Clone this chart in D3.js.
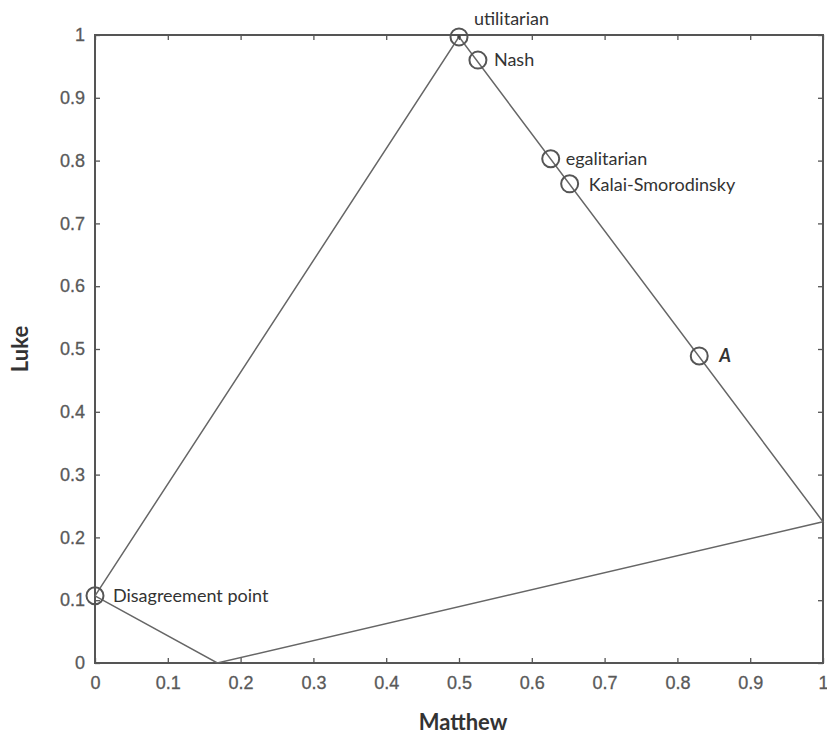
<!DOCTYPE html>
<html><head><meta charset="utf-8">
<script src="https://cdn.jsdelivr.net/npm/d3@7"></script>
<style>body{margin:0;background:#fff}</style>
</head><body>
<svg id="c" width="827" height="734"></svg>
<script>
const xTicks = [0,0.1,0.2,0.3,0.4,0.5,0.6,0.7,0.8,0.9,1];
const yTicks = [0,0.1,0.2,0.3,0.4,0.5,0.6,0.7,0.8,0.9,1];
const frontier = [[0,0.107],[0.5,0.997],[1,0.225],[0.168,0],[0,0.107]];
const pointNames = ["utilitarian","Nash","egalitarian","Kalai-Smorodinsky","A","Disagreement point"];
const pointX = [0.5,0.526,0.626,0.652,0.830,0.0];
const pointY = [0.997,0.960,0.803,0.763,0.489,0.107];

const svg = d3.select("#c");
const L=95,R=823,T=35,B=663;
const x = d3.scaleLinear().domain([0,1]).range([L,R]);
const y = d3.scaleLinear().domain([0,1]).range([B,T]);
const axisCol="#555", tickFont="Liberation Sans, Arial, sans-serif";

const g = svg.append("g");
g.append("g").attr("transform",`translate(0,${B})`).call(d3.axisBottom(x).tickValues(xTicks).tickSize(-5).tickPadding(13).tickFormat(d3.format("~g")));
g.append("g").attr("transform",`translate(0,${T})`).call(d3.axisTop(x).tickValues(xTicks).tickSize(-5).tickFormat(""));
g.append("g").attr("transform",`translate(${L},0)`).call(d3.axisLeft(y).tickValues(yTicks).tickSize(-5).tickPadding(10).tickFormat(d3.format("~g")));
g.append("g").attr("transform",`translate(${R},0)`).call(d3.axisRight(y).tickValues(yTicks).tickSize(-5).tickFormat(""));
g.selectAll(".domain").remove();
g.selectAll(".tick line").attr("stroke",axisCol).attr("stroke-width",1.3);
g.selectAll(".tick text").attr("fill","#595959").attr("font-family",tickFont).attr("font-size",18)
  .attr("stroke","#595959").attr("stroke-width",0.3);
svg.append("rect").attr("x",L).attr("y",T).attr("width",R-L).attr("height",B-T)
  .attr("fill","none").attr("stroke",axisCol).attr("stroke-width",2);

svg.append("path").datum(frontier)
  .attr("d",d3.line().x(d=>x(d[0])).y(d=>y(d[1])))
  .attr("fill","none").attr("stroke","#666").attr("stroke-width",1.5);

const pts = pointNames.map((n,i)=>({n,x:pointX[i],y:pointY[i]}));
svg.selectAll("circle.m").data(pts).join("circle").attr("class","m")
  .attr("cx",d=>x(d.x)).attr("cy",d=>y(d.y)).attr("r",8.5)
  .attr("fill","none").attr("stroke","#555").attr("stroke-width",2);
svg.append("circle").attr("cx",x(pointX[0])).attr("cy",y(pointY[0])).attr("r",1.8).attr("fill","#444");

const lblFont="Lato, 'Open Sans', sans-serif";
const offs = [[15,-12],[16,6],[15,6],[19,7],[20,6],[18,6]];
svg.selectAll("text.lbl").data(pts).join("text").attr("class","lbl")
  .attr("x",(d,i)=>x(d.x)+offs[i][0]).attr("y",(d,i)=>y(d.y)+offs[i][1])
  .attr("font-family",lblFont).attr("font-size",18).attr("fill","#333")
  .attr("font-style",d=>d.n==="A"?"italic":"normal")
  .attr("font-weight",d=>d.n==="A"?"bold":"normal")
  .text(d=>d.n);

svg.append("text").attr("x",(L+R)/2+4).attr("y",730).attr("text-anchor","middle")
  .attr("font-family",lblFont).attr("font-weight","bold").attr("font-size",22).attr("fill","#333").text("Matthew");
svg.append("text").attr("transform",`translate(28,${(T+B)/2}) rotate(-90)`).attr("text-anchor","middle")
  .attr("font-family",lblFont).attr("font-weight","bold").attr("font-size",22).attr("fill","#333").text("Luke");
</script>
</body></html>
